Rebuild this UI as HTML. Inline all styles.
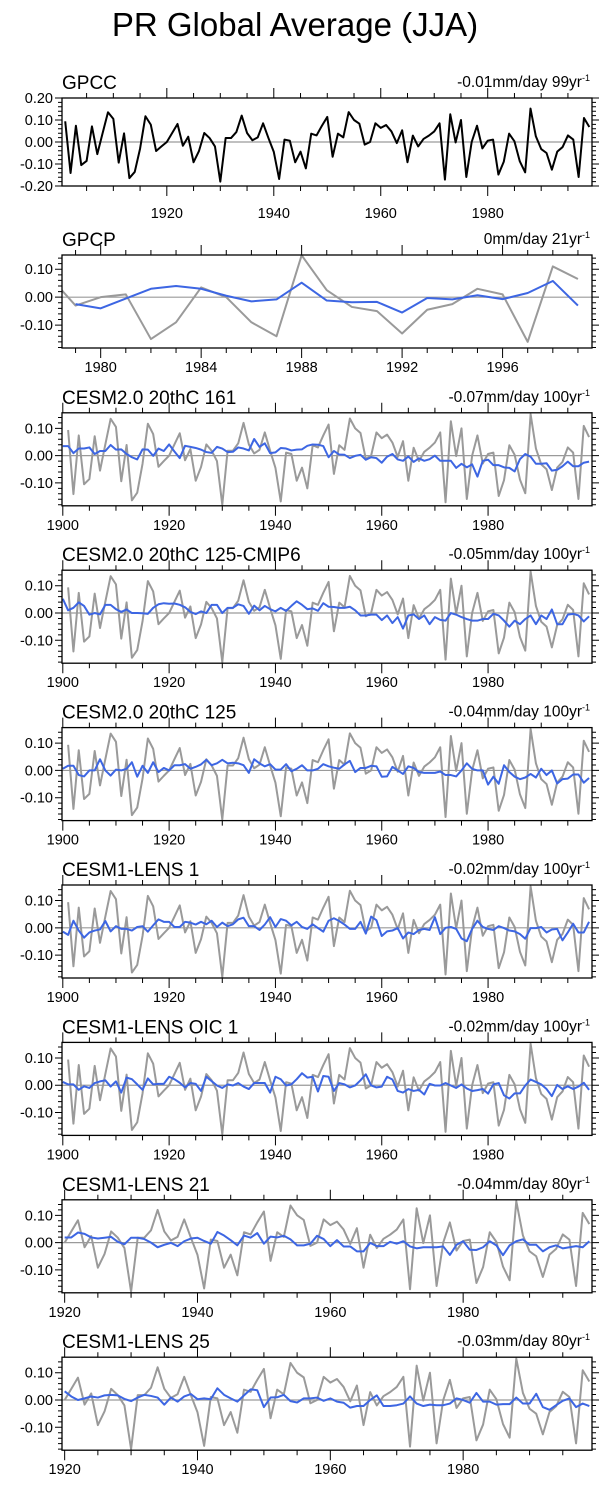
<!DOCTYPE html>
<html><head><meta charset="utf-8"><title>PR Global Average (JJA)</title>
<style>
html,body{margin:0;padding:0;background:#fff;}
svg{display:block;font-family:"Liberation Sans",Arial,sans-serif;}
</style></head>
<body>
<svg id="chart" width="609" height="1485" viewBox="0 0 609 1485" xmlns="http://www.w3.org/2000/svg">
<text x="295" y="36" text-anchor="middle" font-size="33" fill="#000">PR Global Average (JJA)</text>
</svg>
<script>
// ---- data ----
const gpccStart = 1901;
const gpccValues = [0.094,-0.141,0.074,-0.105,-0.086,0.071,-0.055,0.041,0.135,0.105,
-0.094,0.039,-0.164,-0.136,-0.03,0.117,0.079,-0.041,-0.02,0.0,
0.041,0.082,-0.017,0.024,-0.092,-0.042,0.041,0.018,-0.02,-0.18,
0.018,0.018,0.045,0.12,0.041,0.008,0.021,0.085,0.018,-0.045,
-0.168,0.011,0.006,-0.092,-0.044,-0.12,0.038,0.03,0.074,0.114,
-0.067,0.038,0.021,0.136,0.10,0.083,-0.012,0.0,0.085,0.064,
0.077,0.048,-0.005,0.053,-0.092,0.029,-0.02,0.014,0.029,0.048,
0.085,-0.171,0.126,-0.002,0.1,-0.159,0.0,0.074,-0.029,0.006,
0.011,-0.148,-0.09,0.038,0.003,-0.088,-0.138,0.152,0.026,-0.032,
-0.05,-0.126,-0.044,-0.023,0.03,0.011,-0.159,0.109,0.068];
const gpcpGrayStart = 1978;
const gpcpGray = [0.07,-0.03,0.0,0.01,-0.15,-0.09,0.035,0.0,-0.09,-0.14,0.15,0.025,-0.035,-0.05,-0.13,-0.045,-0.025,0.03,0.01,-0.16,0.11,0.065];
const gpcpBlueStart = 1979;
const gpcpBlue = [-0.025,-0.04,-0.005,0.03,0.04,0.03,0.005,-0.015,-0.008,0.052,-0.012,-0.018,-0.017,-0.055,-0.003,-0.008,0.007,-0.007,0.015,0.058,-0.03];
const modelStart100 = 1900;
const cesm2_161 = [0.035,0.035,0.009,0.026,0.026,0.03,0.006,0.017,0.017,0.039,0.022,0.023,0.006,-0.006,-0.014,0.023,0.022,-0.001,0.026,0.017,0.041,0.015,-0.009,0.036,0.032,0.028,0.022,0.013,0.01,0.032,0.026,0.013,0.014,0.03,0.026,0.019,0.061,0.032,0.045,0.009,0.012,0.028,0.026,0.019,0.022,0.023,0.036,0.041,0.04,0.035,-0.006,0.017,0.004,0.003,-0.009,-0.001,0.003,-0.015,-0.006,-0.009,-0.026,-0.004,0.006,-0.014,-0.019,-0.003,-0.023,-0.01,-0.019,-0.013,0,-0.019,-0.019,-0.019,-0.045,-0.03,-0.043,-0.032,-0.077,-0.019,-0.015,-0.035,-0.035,-0.043,-0.045,-0.058,-0.013,0.006,-0.004,-0.03,-0.03,-0.028,-0.055,-0.052,-0.039,-0.022,-0.039,-0.039,-0.026,-0.022];
const cesm2_125cmip6 = [0.052,0.01,0.019,0.039,0.026,-0.006,0,-0.005,0.03,0.03,0.014,0.004,0.013,0,0,-0.001,-0.003,0.019,0.032,0.036,0.034,0.035,0.03,0.021,0.004,-0.004,0.006,0,0.03,0.03,0,0.019,0.019,0.032,0.026,-0.003,0.027,0.01,0.026,0.014,0.006,0.019,0.008,0.026,0.043,0.03,0.014,0.017,0.008,0.036,0.023,0.022,0.019,0.019,0.023,0.01,-0.009,-0.009,-0.006,-0.006,-0.026,-0.009,-0.037,-0.015,-0.057,-0.009,-0.005,-0.022,-0.009,-0.041,-0.015,-0.025,-0.028,0,-0.006,-0.015,-0.022,-0.028,-0.028,-0.022,-0.022,-0.003,-0.009,-0.028,-0.05,-0.028,-0.041,-0.022,-0.009,-0.041,-0.009,-0.022,0.013,-0.041,-0.041,-0.006,-0.003,-0.009,-0.031,-0.012];
const cesm2_125 = [0.006,0.017,0.017,-0.017,-0.022,0,0,0.041,0,-0.019,0.003,0,0.006,0.03,-0.023,0.017,-0.009,0.03,-0.006,0.009,0,0.019,0.019,0.023,0.006,0.013,0.022,0.039,0.019,0.026,0.039,0.026,0.028,0.026,0.019,-0.009,0.041,0.026,0.015,0.023,0.003,0.003,0.023,-0.003,0.006,0.019,0,0,0.006,0.023,0.015,0.01,0.006,0.022,0.035,-0.006,0.009,0.009,0.017,0.015,-0.023,-0.022,0.013,0,-0.013,0.015,0.009,-0.006,-0.009,-0.009,-0.009,-0.004,-0.017,-0.017,-0.022,0,0.026,0.006,0,0,-0.052,-0.023,-0.049,0.019,-0.006,-0.023,-0.032,-0.026,-0.013,-0.026,0.006,-0.017,0,-0.048,-0.032,-0.03,-0.015,-0.015,-0.045,-0.028];
const lens1 = [-0.014,-0.026,0.026,-0.01,-0.036,-0.017,-0.01,-0.006,0.025,-0.013,0.006,-0.004,-0.004,-0.01,0.003,0.006,-0.014,0.009,0.031,0.022,0.022,0.003,0.003,0.022,0.019,0.012,0.022,0.013,0.026,0.003,0.019,0.006,0.013,0.031,0.037,0.006,0.006,-0.008,0.012,0.039,0.003,0.032,0.026,0.009,0.022,0.003,-0.004,0.013,-0.001,-0.014,0.026,0.035,0.025,0.012,-0.004,-0.004,0.022,-0.021,0.041,0.028,-0.03,-0.013,-0.01,-0.001,-0.039,-0.017,-0.023,-0.008,-0.004,-0.008,0.039,-0.023,0,0.003,-0.004,-0.039,-0.049,-0.004,0.026,0.003,-0.004,-0.008,0.006,-0.001,-0.01,-0.013,-0.023,-0.04,-0.001,-0.001,0.003,-0.017,-0.006,-0.004,-0.046,-0.017,0.015,-0.017,-0.017,0.022];
const oic1 = [0.012,0.003,0.003,-0.017,-0.004,-0.01,0.008,0.014,0.018,-0.005,0.014,-0.027,0.028,0.022,0.003,-0.017,0.025,0.003,0.005,0.005,0.031,0.022,0.009,-0.008,0.008,0.005,-0.021,0.031,0.015,-0.001,-0.01,0.003,-0.001,0.008,-0.005,-0.014,0.008,0.008,0.008,-0.027,0.031,0.022,-0.001,0.003,0.022,0.044,0.028,0.031,-0.023,0.034,0.031,-0.021,0.008,0.003,-0.008,-0.001,0.018,0.04,-0.001,-0.008,-0.005,0.031,0.021,-0.021,-0.027,-0.014,-0.021,-0.017,-0.034,0.005,-0.001,-0.001,0.008,-0.001,-0.01,0.003,-0.012,-0.021,-0.018,-0.014,-0.031,0.003,0.008,-0.037,-0.049,-0.03,-0.03,-0.001,0.021,0.012,0.003,-0.014,-0.04,0.001,-0.014,-0.004,-0.014,-0.005,0.009,-0.017];
const modelStart80 = 1920;
const lens21 = [0.019,0.019,0.037,0.032,0.019,0.015,0.018,0.021,0.003,-0.006,0.018,0.018,0.013,0,-0.017,-0.008,-0.001,-0.013,0.005,0.015,0.018,0.006,-0.004,0.039,0.026,0.009,-0.01,0.026,0.018,0.035,-0.004,0.022,0.019,0.025,0.012,-0.01,-0.01,-0.004,0.025,0.013,-0.013,0.009,-0.014,-0.014,-0.032,-0.032,-0.001,-0.013,-0.013,0.003,-0.004,0.005,-0.014,-0.021,-0.017,-0.017,-0.017,-0.014,-0.045,-0.008,0.005,-0.026,-0.027,-0.017,0.005,-0.01,-0.046,-0.01,0.005,0.012,-0.008,-0.008,-0.032,-0.017,-0.01,-0.021,-0.017,-0.013,-0.017,0.005];
const lens25 = [0.032,0.013,0,0.006,0.013,0.009,0.017,0.019,0.017,0.004,-0.004,0.009,0.019,0.015,0.009,-0.017,0.009,-0.006,0.013,0.022,0.003,0.006,0.003,0.043,0.019,0.006,-0.006,0.017,0.039,0.036,-0.026,0.009,0.01,0.019,-0.004,-0.009,0.006,0.006,0.009,-0.003,0.006,-0.006,-0.01,-0.028,-0.022,-0.022,0,0.017,-0.022,-0.022,-0.019,-0.013,0.013,-0.013,-0.022,-0.017,-0.019,-0.019,-0.013,0.006,0,-0.01,0.026,-0.006,-0.006,-0.017,-0.015,-0.015,0.009,-0.013,-0.013,0.023,-0.026,-0.036,-0.019,-0.003,0.006,-0.026,-0.013,-0.022];
const panelTitles = ["GPCC","GPCP","CESM2.0 20thC 161","CESM2.0 20thC 125-CMIP6","CESM2.0 20thC 125","CESM1-LENS 1","CESM1-LENS OIC 1","CESM1-LENS 21","CESM1-LENS 25"];
const trendTexts = ["-0.01mm/day 99yr","0mm/day 21yr","-0.07mm/day 100yr","-0.05mm/day 100yr","-0.04mm/day 100yr","-0.02mm/day 100yr","-0.02mm/day 100yr","-0.04mm/day 80yr","-0.03mm/day 80yr"];
const yTicksWide = [0.2,0.1,0,-0.1,-0.2];
const yTicksNarrow = [0.1,0,-0.1];

// ---- drawing ----
const NS = "http://www.w3.org/2000/svg";
const svg = document.getElementById('chart');
const L = 62, R = 592, W = R - L, H = 93, TOP0 = 98, STEP = 157.4;
function mk(tag, attrs, parent){
  const e = document.createElementNS(NS, tag);
  for (const k in attrs) e.setAttribute(k, attrs[k]);
  (parent||svg).appendChild(e);
  return e;
}
function series(g, start, vals, xf, yf, color, w, name, clip){
  let d = '';
  vals.forEach((v,i)=>{ d += (i?'L':'M') + xf(start+i).toFixed(2) + ',' + yf(v).toFixed(2); });
  const p = mk('path', {d:d, fill:'none', stroke:color, 'stroke-width':w, 'stroke-linejoin':'round', 'clip-path':'url(#'+clip+')'}, g);
  
  
}
function drawPanel(k, cfg){
  const top = k===0 ? TOP0 : (k===1 ? 255 : 412.8 + STEP*(k-2));
  const h = k===0 ? 88 : H;
  const bottom = top + h;
  const xf = yr => L + (yr - cfg.x0)/(cfg.x1 - cfg.x0)*W;
  const yf = v => top + (cfg.y1 - v)/(cfg.y1 - cfg.y0)*h;
  const g = mk('g', {});
  
  
  const cid = 'clip' + k;
  const cp = mk('clipPath', {id:cid}, g);
  mk('rect', {x:L, y:top, width:W, height:h}, cp);
  const t = mk('text', {x:L, y:top-9, 'font-size':19}, g);
  t.textContent = panelTitles[k];
  
  
  const tr = mk('text', {x:590, y:top-11, 'font-size':15.5, 'text-anchor':'end'}, g);
  tr.textContent = trendTexts[k];
  const sup = mk('tspan', {'font-size':9, dy:-6}, tr);
  sup.textContent = '-1';
  
  
  const z = mk('line', {x1:L, x2:R, y1:yf(0), y2:yf(0), stroke:'#9a9a9a', 'stroke-width':1.2}, g);
  
  
  cfg.draw(g, xf, yf, cid);
  const fr = mk('rect', {x:L, y:top, width:W, height:h, fill:'none', stroke:'#000', 'stroke-width':1.3}, g);
  
  
  let ticks = '';
  for (let v = Math.ceil(cfg.y0/0.02 - 1e-6)*0.02; v <= cfg.y1 + 1e-9; v += 0.02) {
    const major = Math.abs(Math.round(v*10) - v*10) < 1e-6;
    const len = major ? 7 : 4;
    const yy = yf(v).toFixed(2);
    ticks += 'M'+(L-len)+','+yy+'H'+L+'M'+R+','+yy+'H'+(R+len);
  }
  for (let yr = Math.ceil(cfg.x0/cfg.minor)*cfg.minor; yr <= cfg.x1; yr += cfg.minor) {
    const major = yr % cfg.major === 0;
    const len = major ? 10 : 5;
    const xx = xf(yr).toFixed(2);
    ticks += 'M'+xx+','+bottom+'V'+(bottom+len)+'M'+xx+','+top+'V'+(top-len);
  }
  mk('path', {d:ticks, stroke:'#000', 'stroke-width':1, fill:'none'}, g);
  (k===0 ? yTicksWide : yTicksNarrow).forEach(v=>{
    const lb = mk('text', {x:53, y:yf(v)+5, 'font-size':14.5, 'text-anchor':'end'}, g);
    lb.textContent = v.toFixed(2);
    
    
  });
  const lo = k===0 ? 32 : 24;
  for (let yr = Math.ceil(cfg.x0/cfg.major)*cfg.major; yr <= cfg.x1; yr += cfg.major) {
    const lb = mk('text', {x:xf(yr), y:bottom+lo, 'font-size':14.5, 'text-anchor':'middle'}, g);
    lb.textContent = yr;
    
    
  }
}
const Y0 = -0.184, Y1 = 0.157;
function obsGray(g, xf, yf, cid){ series(g, gpccStart, gpccValues, xf, yf, '#9a9a9a', 2, 'gpcc-obs-line', cid); }
function obsGray80(g, xf, yf, cid){ series(g, 1920, gpccValues.slice(1920-gpccStart), xf, yf, '#9a9a9a', 2, 'gpcc-obs-line', cid); }
const BLUE = '#3d66e3';
drawPanel(0, {x0:1900.4, x1:1999.5, y0:-0.2, y1:0.2, minor:5, major:20,
  draw:(g,xf,yf,c)=>series(g, gpccStart, gpccValues, xf, yf, '#000', 2, 'gpcc-line', c)});
drawPanel(1, {x0:1978.46, x1:1999.56, y0:-0.182, y1:0.151, minor:1, major:4,
  draw:(g,xf,yf,c)=>{ series(g, gpcpGrayStart, gpcpGray, xf, yf, '#9a9a9a', 2, 'gpcp-obs-line', c);
                      series(g, gpcpBlueStart, gpcpBlue, xf, yf, BLUE, 2, 'gpcp-model-line', c); }});
const models100 = [cesm2_161, cesm2_125cmip6, cesm2_125, lens1, oic1];
models100.forEach((arr, i)=>{
  drawPanel(2+i, {x0:1899.85, x1:1999.55, y0:Y0, y1:Y1, minor:5, major:20,
    draw:(g,xf,yf,c)=>{ obsGray(g,xf,yf,c); series(g, modelStart100, arr, xf, yf, BLUE, 2, 'model-line', c); }});
});
[lens21, lens25].forEach((arr, i)=>{
  drawPanel(7+i, {x0:1919.6, x1:1999.4, y0:Y0, y1:Y1, minor:5, major:20,
    draw:(g,xf,yf,c)=>{ obsGray80(g,xf,yf,c); series(g, modelStart80, arr, xf, yf, BLUE, 2, 'model-line', c); }});
});
</script>
</body></html>
